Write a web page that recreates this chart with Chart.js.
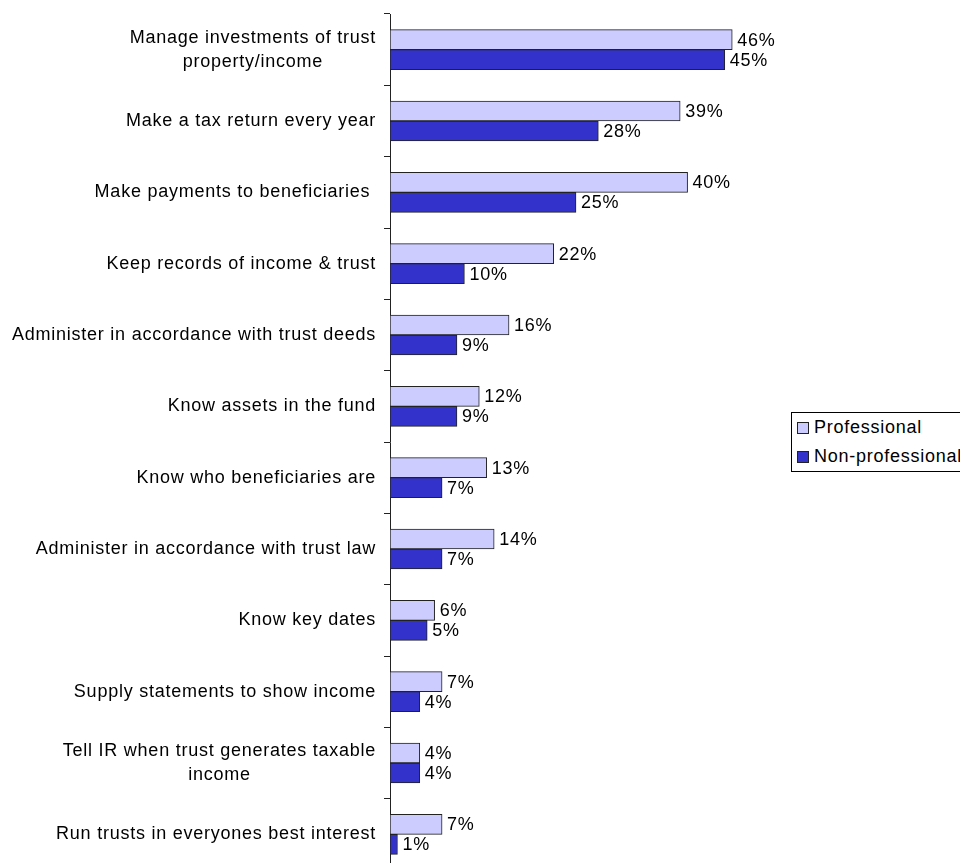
<!DOCTYPE html>
<html>
<head>
<meta charset="utf-8">
<script src="https://cdn.jsdelivr.net/npm/chart.js@4/dist/chart.umd.min.js"></script>
<style>
  html, body { margin: 0; padding: 0; background: #fff; overflow: hidden; }
  body { width: 960px; height: 863px; position: relative; font-family: "Liberation Sans", Arial, sans-serif; }
  #wrap { position: absolute; left: 0; top: 0; width: 960px; height: 880px; }
  #legend {
    position: absolute; left: 791px; top: 412px;
    border: 1px solid #000; background: #fff;
    padding: 0 12px 0 5px; white-space: nowrap;
    font-size: 18px; letter-spacing: 0.75px; color: #000;
  }
  .row { height: 29px; display: flex; align-items: center; }
  .swatch { width: 10px; height: 10px; border: 1px solid #222; margin-right: 5px; }
</style>
</head>
<body>
<div id="wrap"><canvas id="chart"></canvas></div>
<div id="legend"></div>
<script>
const labels = [
  ["Manage investments of trust", "property/income"],
  "Make a tax return every year",
  "Make payments to beneficiaries ",
  "Keep records of income & trust",
  "Administer in accordance with trust deeds",
  "Know assets in the fund",
  "Know who beneficiaries are",
  "Administer in accordance with trust law",
  "Know key dates",
  "Supply statements to show income",
  ["Tell IR when trust generates taxable", "income"],
  "Run trusts in everyones best interest"
];
const professional = [46, 39, 40, 22, 16, 12, 13, 14, 6, 7, 4, 7];
const nonProfessional = [45, 28, 25, 10, 9, 9, 7, 7, 5, 4, 4, 1];

const seriesNames = ["Professional", "Non-professional"];
const seriesColors = ["#CCCCFF", "#3333CC"];

const FONT = '18px "Liberation Sans", Arial, sans-serif';
const SPACING = "0.75px";
const LINE_H = 24;

// category names: each block right-aligned to the axis, lines centred within the block
const categoryLabels = {
  id: "categoryLabels",
  afterDraw(chart) {
    const { ctx } = chart;
    const y = chart.scales.y;
    const right = y.right - 14;
    ctx.save();
    ctx.font = FONT;
    ctx.letterSpacing = SPACING;
    ctx.fillStyle = "#000";
    ctx.textAlign = "center";
    ctx.textBaseline = "middle";
    labels.forEach((label, i) => {
      const lines = Array.isArray(label) ? label : [label];
      const w = Math.max(...lines.map(l => ctx.measureText(l).width));
      const cx = right - w / 2;
      const cy = y.getPixelForValue(i);
      lines.forEach((line, j) => {
        ctx.fillText(line, cx, cy + (j - (lines.length - 1) / 2) * LINE_H);
      });
    });
    ctx.restore();
  }
};

// percentage just past the end of every bar
const valueLabels = {
  id: "valueLabels",
  afterDatasetsDraw(chart) {
    const { ctx } = chart;
    ctx.save();
    ctx.font = FONT;
    ctx.letterSpacing = SPACING;
    ctx.fillStyle = "#000";
    ctx.textAlign = "left";
    ctx.textBaseline = "middle";
    chart.data.datasets.forEach((ds, di) => {
      chart.getDatasetMeta(di).data.forEach((bar, i) => {
        ctx.fillText(ds.data[i] + "%", bar.x + 5, bar.y + 1);
      });
    });
    ctx.restore();
  }
};

new Chart(document.getElementById("chart"), {
  type: "bar",
  data: {
    labels: labels,
    datasets: [
      { label: seriesNames[0], data: professional, backgroundColor: seriesColors[0] },
      { label: seriesNames[1], data: nonProfessional, backgroundColor: seriesColors[1] }
    ]
  },
  options: {
    indexAxis: "y",
    responsive: true,
    maintainAspectRatio: false,
    animation: false,
    layout: { padding: { top: 14, bottom: 10, left: 0, right: 198 } },
    datasets: {
      bar: { barThickness: 20, borderColor: "#222", borderWidth: 1, borderSkipped: false }
    },
    scales: {
      x: { display: false, min: 0, max: 50 },
      y: {
        offset: true,
        ticks: { display: false },
        grid: { drawOnChartArea: false, drawTicks: true, tickLength: 6, color: "#222", offset: true },
        border: { display: true, color: "#222", width: 1 },
        afterFit(scale) { scale.width = 390; }
      }
    },
    plugins: {
      legend: { display: false },
      tooltip: { enabled: false }
    }
  },
  plugins: [categoryLabels, valueLabels]
});

const legend = document.getElementById("legend");
seriesNames.forEach((name, i) => {
  const row = document.createElement("div");
  row.className = "row";
  const sw = document.createElement("div");
  sw.className = "swatch";
  sw.style.background = seriesColors[i];
  row.appendChild(sw);
  row.appendChild(document.createTextNode(name));
  legend.appendChild(row);
});
</script>
</body>
</html>
